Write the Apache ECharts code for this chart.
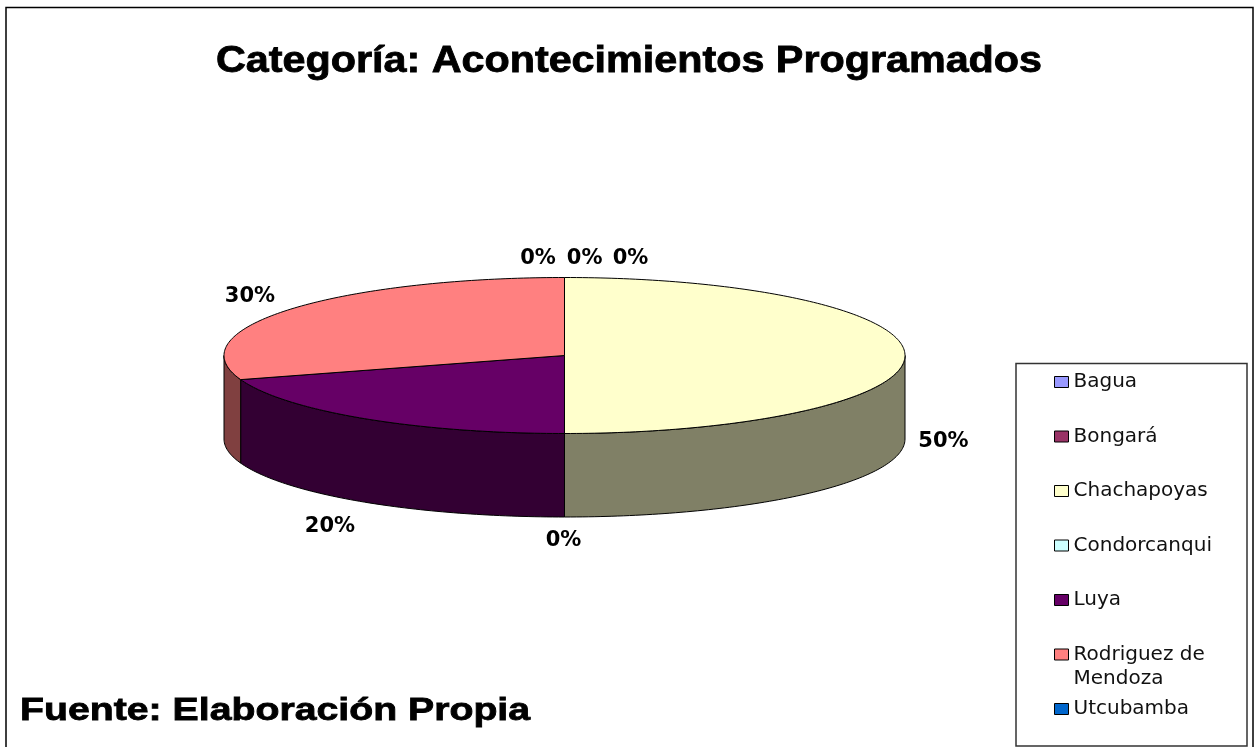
<!DOCTYPE html>
<html><head><meta charset="utf-8">
<style>html,body{margin:0;padding:0;background:#fff}#c{width:1259px;height:747px}</style>
<script src="https://cdn.jsdelivr.net/npm/echarts@6/dist/echarts.min.js"></script>
</head><body><div id="c"></div>
<script>
const categories = ['Bagua','Bongará','Chachapoyas','Condorcanqui','Luya','Rodriguez de Mendoza','Utcubamba'];
const values = [0,0,50,0,20,30,0];
const topColors = ['#9999FF','#993366','#FFFFCC','#CCFFFF','#660066','#FF8080','#0066CC'];
const sideColors = ['#4D4D80','#4D1A33','#808066','#668080','#330033','#804040','#003366'];
const titleText = 'Categoría: Acontecimientos Programados';
const sourceText = 'Fuente: Elaboración Propia';
const legendLabels = {'Rodriguez de Mendoza':'Rodriguez de\nMendoza'};

const pie = {cx:564.5, cy:355.5, rx:340.5, ry:78, depth:83.5};
const labelCentres = [[584.7,259],[630.5,259],[943.5,441.5],[563.5,541],[330,526.5],[250,297],[538,259]];
const total = values.reduce((a,b)=>a+b,0);

function pt(fracAngle, dy){
  const a = fracAngle*2*Math.PI;
  return [pie.cx+pie.rx*Math.sin(a), pie.cy-pie.ry*Math.cos(a)+dy];
}
function arc(f0,f1,dy){
  const n = Math.max(2,Math.ceil((f1-f0)*360));
  const out=[];
  for(let i=0;i<=n;i++) out.push(pt(f0+(f1-f0)*i/n,dy));
  return out;
}
const series = categories.map((name,i)=>({
  type:'custom', name, coordinateSystem:'none', silent:true,
  itemStyle:{color:topColors[i]},
  data:[[values[i]]],
  z:2,
  renderItem(params,api){
    const v = api.value(0);
    const start = values.slice(0,i).reduce((a,b)=>a+b,0)/total;
    const end = start+v/total;
    const children=[];
    const stroke={stroke:'#000',lineWidth:1,lineJoin:'round'};
    if(v>0){
      const s0=Math.max(start,0.25), s1=Math.min(end,0.75);
      if(s1>s0){
        const pts=arc(s0,s1,0).concat(arc(s0,s1,pie.depth).reverse());
        children.push({type:'polygon',shape:{points:pts},style:{fill:sideColors[i],...stroke},z2:1});
      }
      const pts=[[pie.cx,pie.cy]].concat(arc(start,end,0));
      children.push({type:'polygon',shape:{points:pts},style:{fill:topColors[i],...stroke},z2:2});
    }
    children.push({type:'text',x:labelCentres[i][0],y:labelCentres[i][1],z2:3,
      style:{text:Math.round(v/total*100)+'%',align:'center',verticalAlign:'middle',
        font:'bold 21px "DejaVu Sans"',fill:'#000'}});
    return {type:'group',children};
  }
}));

const chart = echarts.init(document.getElementById('c'),null,{renderer:'canvas'});
chart.setOption({
  animation:false,
  backgroundColor:'#fff',
  legend:{orient:'vertical',left:1054,top:346,height:430,padding:0,itemGap:-17.5,itemWidth:14,itemHeight:11,icon:'rect',
    data:categories,selectedMode:false,
    formatter:n=>'\n'+(legendLabels[n]||n+'\n'),
    itemStyle:{borderColor:'#000',borderWidth:1},
    textStyle:{fontFamily:'DejaVu Sans',fontSize:20,color:'#111',lineHeight:24}},
  graphic:[
    {type:'rect',z:-2,silent:true,shape:{x:6,y:7.5,width:1247,height:760},style:{fill:'#fff',stroke:'#000',lineWidth:1.5}},
    {type:'rect',z:-1,silent:true,shape:{x:1016,y:363.5,width:231,height:382.5},style:{fill:'#fff',stroke:'#333',lineWidth:1.5}},
    {type:'text',z:5,silent:true,x:216,y:62,scaleX:1.147,style:{text:titleText,font:'bold 36px "Liberation Sans"',fill:'#000',stroke:'#000',lineWidth:0.8,verticalAlign:'middle'}},
    {type:'text',z:5,silent:true,x:20,y:711,scaleX:1.226,style:{text:sourceText,font:'bold 32px "Liberation Sans"',fill:'#000',stroke:'#000',lineWidth:0.8,verticalAlign:'middle'}}
  ],
  series
});
</script></body></html>
